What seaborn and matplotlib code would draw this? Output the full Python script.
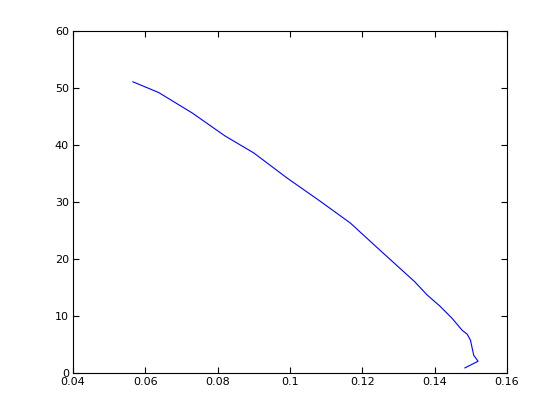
import matplotlib
matplotlib.use("Agg")
import matplotlib.pyplot as plt
import seaborn as sns
import pandas as pd

# values
x_vals = [0.0565, 0.0637, 0.0730, 0.0820, 0.0900, 0.0946, 0.0992, 0.1082,
          0.1167, 0.1246, 0.1345, 0.1379, 0.1415, 0.1448, 0.1476, 0.1490,
          0.1499, 0.1508, 0.1520, 0.1483]
y_vals = [51.1, 49.2, 45.6, 41.6, 38.6, 36.4, 34.2, 30.2,
          26.3, 21.7, 16.0, 13.7, 11.7, 9.6, 7.5, 6.8,
          5.75, 3.1, 2.06, 0.88]

x_ticks = [0.04, 0.06, 0.08, 0.1, 0.12, 0.14, 0.16]
x_labels = ['0.04', '0.06', '0.08', '0.1', '0.12', '0.14', '0.16']
y_ticks = [0, 10, 20, 30, 40, 50, 60]

df = pd.DataFrame({'x': x_vals, 'y': y_vals})

sns.set_style('ticks')
plt.rcParams['font.family'] = ['DejaVu Sans']

fig = plt.figure(figsize=(5.6, 4.19), dpi=100)
ax = fig.add_axes([73 / 560, 1 - 373 / 419, 434 / 560, 342 / 419])

sns.lineplot(data=df, x='x', y='y', sort=False, estimator=None,
             color=(0, 0, 1), linewidth=0.8, ax=ax)

ax.set_xlim(0.04, 0.16)
ax.set_ylim(0, 60)
ax.set_xticks(x_ticks)
ax.set_xticklabels(x_labels)
ax.set_yticks(y_ticks)
ax.set_xlabel('')
ax.set_ylabel('')
ax.tick_params(direction='in', top=True, right=True, length=4, width=0.8,
               labelsize=8, colors='black', pad=3)
for s in ax.spines.values():
    s.set_visible(True)
    s.set_linewidth(0.8)
    s.set_color('black')

fig.savefig('out.png', dpi=100)
